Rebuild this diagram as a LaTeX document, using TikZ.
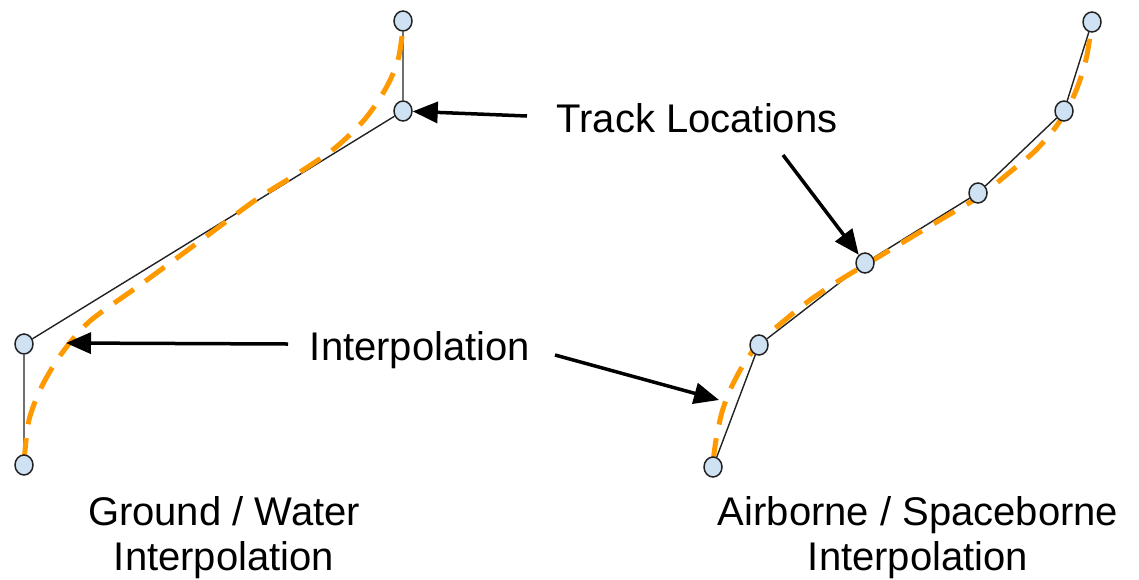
\documentclass[tikz,border=0pt]{standalone}
\usepackage{fontspec}
\setmainfont{Liberation Sans}
\usetikzlibrary{shapes.geometric,arrows.meta}
\pgfdeclarelayer{background}
\pgfsetlayers{background,main}
\definecolor{ptfill}{HTML}{CFE2F3}
\definecolor{interp}{HTML}{FF9900}
\definecolor{trk}{HTML}{222222}
\tikzset{
  pt/.style={ellipse, draw=trk, line width=1.5pt, fill=ptfill, minimum width=18pt, minimum height=20pt, inner sep=0pt},
  trackline/.style={draw=trk, line width=1.4pt},
  interpline/.style={draw=interp, line width=5pt, dash pattern=on 24pt off 14pt, line cap=butt},
  callout/.style={draw=black, line width=3.5pt, -{Triangle[length=25pt,width=21pt]}},
  lbl/.style={font=\fontsize{40}{45}\selectfont, text=black, inner sep=0pt, align=center}
}
\begin{document}
\begin{tikzpicture}[x=1pt,y=-1pt]
\useasboundingbox (0,0) rectangle (1139,579);
% track location nodes
\node[pt] (L1) at (403,21) {};
\node[pt] (L2) at (403,111) {};
\node[pt] (L3) at (24,344) {};
\node[pt] (L4) at (24,465) {};
\node[pt] (R1) at (1092,22) {};
\node[pt] (R2) at (1064,111) {};
\node[pt] (R3) at (978,193) {};
\node[pt] (R4) at (865,263) {};
\node[pt] (R5) at (759,345) {};
\node[pt] (R6) at (713,467) {};
\begin{pgfonlayer}{background}
\draw[trackline] (L1) -- (L2) -- (L3) -- (L4);
\draw[trackline] (R1) -- (R2) -- (R3) -- (R4) -- (R5) -- (R6);
\draw[interpline] plot[smooth] coordinates {(24,462) (29,420) (42,386) (62,353) (90,321) (140,285) (200,241) (257,199) (300,172) (335,148) (365,119) (386,88) (398,60) (403,28)};
\draw[interpline] plot[smooth] coordinates {(713,462) (716,440) (722,412) (731,388) (745,362) (762,340) (785,320) (810,300) (840,280) (865,265) (900,244) (940,220) (980,196) (1010,172) (1035,151) (1055,128) (1070,104) (1080,80) (1087,55) (1091,28)};
\end{pgfonlayer}
% labels
\node[lbl, anchor=base] (track) at (697,132) {Track Locations};
\node[lbl, anchor=base] (interp) at (420,360) {Interpolation};
\node[lbl, anchor=base] (ground) at (224,570) {Ground / Water\\Interpolation};
\node[lbl, anchor=base] (air) at (918,570) {Airborne / Spaceborne\\Interpolation};
% callout arrows
\coordinate (t1) at (527,116);
\coordinate (t2) at (783,155);
\coordinate (t3) at (288,344);
\coordinate (h3) at (66,343);
\coordinate (t4) at (555,355);
\coordinate (h4) at (719,400);
\draw[callout] (t1) -- (L2);
\draw[callout] (t2) -- (R4);
\draw[callout] (t3) -- (h3);
\draw[callout] (t4) -- (h4);
\end{tikzpicture}
\end{document}
